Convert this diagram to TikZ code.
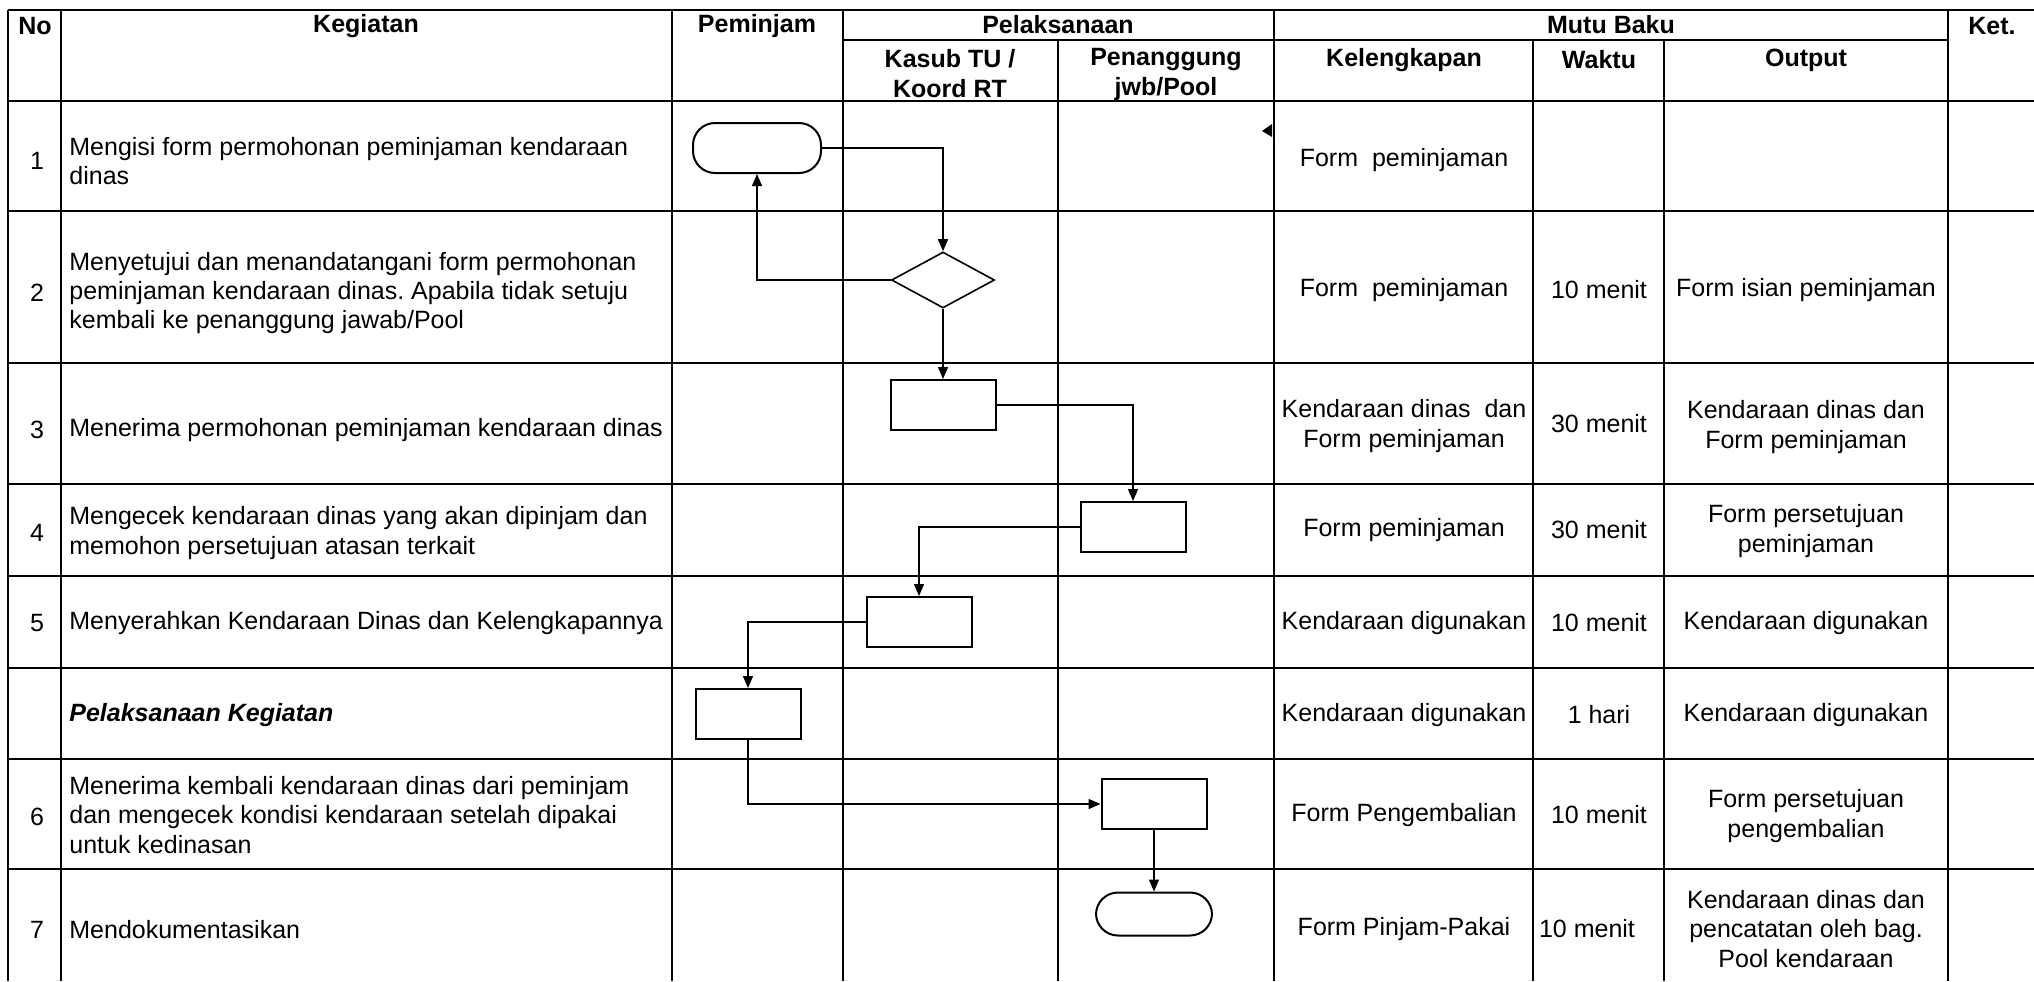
\documentclass[tikz,border=0pt]{standalone}
\usepackage{fontspec}
\setmainfont{Liberation Sans}
\usetikzlibrary{shapes.geometric,arrows.meta}
\frenchspacing
\begin{document}
\begin{tikzpicture}[x=0.5pt,y=-0.5pt,
  grid/.style={line width=1.2pt},
  proc/.style={draw,line width=1pt,minimum width=52.5pt,minimum height=25pt,inner sep=0pt},
  term/.style={draw,line width=1pt,rounded corners=11pt,inner sep=0pt},
  dec/.style={draw,diamond,line width=0.8pt,minimum width=51.5pt,minimum height=28pt,inner sep=0pt},
  flow/.style={line width=0.7pt,-{Triangle[length=6pt,width=5pt]}},
  txt/.style={font=\fontsize{12.5}{14.6}\selectfont,inner sep=0pt,align=center},
  ltxt/.style={txt,anchor=west,align=left},
  hdr/.style={inner sep=0pt,align=center,font=\fontsize{12.5}{15}\selectfont\bfseries},
]
\useasboundingbox (0,0) rectangle (2034,981);
% ---- grid ----
\foreach \y in {10,101,211,363,484,576,668,759,869}
  \draw[grid] (8,\y) -- (2034,\y);
\draw[grid] (843,40) -- (1948,40);
\foreach \x in {8,61,672,843,1274,1948}
  \draw[grid] (\x,10) -- (\x,981);
\foreach \x in {1058,1533,1664}
  \draw[grid] (\x,40) -- (\x,981);
% ---- header ----
\node[hdr] (hno) at (35,26) {No};
\node[hdr] (hkeg) at (366,26) {Kegiatan};
\node[hdr] (hpem) at (757,26) {Peminjam};
\node[hdr] (hpel) at (1058,25) {Pelaksanaan};
\node[hdr] (hmutu) at (1611,25) {Mutu Baku};
\node[hdr] (hket) at (1992,26) {Ket.};
\node[hdr] (hkas) at (950,74) {Kasub TU /\\Koord RT};
\node[hdr] (hpen) at (1166,74) {Penanggung\\jwb/Pool};
\node[hdr] (hkel) at (1404,60) {Kelengkapan};
\node[hdr] (hwak) at (1599,60) {Waktu};
\node[hdr] (hout) at (1806,60) {Output};
% ---- numbers ----
\node[txt] (n1) at (37,161) {1};
\node[txt] (n2) at (37,293) {2};
\node[txt] (n3) at (37,430) {3};
\node[txt] (n4) at (37,533) {4};
\node[txt] (n5) at (37,623) {5};
\node[txt] (n6) at (37,817) {6};
\node[txt] (n7) at (37,930) {7};
% ---- kegiatan ----
\node[ltxt] (k1) at (69,161) {Mengisi form permohonan peminjaman kendaraan\\dinas};
\node[ltxt] (k2) at (69,293) {Menyetujui dan menandatangani form permohonan\\peminjaman kendaraan dinas. Apabila tidak setuju\\kembali ke penanggung jawab/Pool};
\node[ltxt] (k3) at (69,430) {Menerima permohonan peminjaman kendaraan dinas};
\node[ltxt] (k4) at (69,533) {Mengecek kendaraan dinas yang akan dipinjam dan\\memohon persetujuan atasan terkait};
\node[ltxt] (k5) at (69,623) {Menyerahkan Kendaraan Dinas dan Kelengkapannya};
\node[ltxt] (k6a) at (69,715) {\textbf{\textit{Pelaksanaan Kegiatan}}};
\node[ltxt] (k6) at (69,815) {Menerima kembali kendaraan dinas dari peminjam\\dan mengecek kondisi kendaraan setelah dipakai\\untuk kedinasan};
\node[ltxt] (k7) at (69,930) {Mendokumentasikan};
% ---- kelengkapan ----
\node[txt] (l1) at (1404,160) {Form\ \ peminjaman};
\node[txt] (l2) at (1404,290) {Form\ \ peminjaman};
\node[txt] (l3) at (1404,426) {Kendaraan dinas\ \ dan\\Form peminjaman};
\node[txt] (l4) at (1404,530) {Form peminjaman};
\node[txt] (l5) at (1404,623) {Kendaraan digunakan};
\node[txt] (l6a) at (1404,715) {Kendaraan digunakan};
\node[txt] (l6) at (1404,815) {Form Pengembalian};
\node[txt] (l7) at (1404,929) {Form Pinjam-Pakai};
% ---- waktu ----
\node[txt] (w2) at (1599,290) {10 menit};
\node[txt] (w3) at (1599,424) {30 menit};
\node[txt] (w4) at (1599,530) {30 menit};
\node[txt] (w5) at (1599,623) {10 menit};
\node[txt] (w6a) at (1599,715) {1 hari};
\node[txt] (w6) at (1599,815) {10 menit};
\node[txt] (w7) at (1587,929) {10 menit};
% ---- output ----
\node[txt] (o2) at (1806,290) {Form isian peminjaman};
\node[txt] (o3) at (1806,427) {Kendaraan dinas dan\\Form peminjaman};
\node[txt] (o4) at (1806,531) {Form persetujuan\\peminjaman};
\node[txt] (o5) at (1806,623) {Kendaraan digunakan};
\node[txt] (o6a) at (1806,715) {Kendaraan digunakan};
\node[txt] (o6) at (1806,816) {Form persetujuan\\pengembalian};
\node[txt] (o7) at (1806,929) {Kendaraan dinas dan\\pencatatan oleh bag.\\Pool kendaraan};
% ---- flowchart shapes ----
\node[term,minimum width=64pt,minimum height=25pt] (t1) at (757,148) {};
\node[dec] (d2) at (943,280) {};
\node[proc] (r3) at (943,405) {};
\node[proc] (r4) at (1133,527) {};
\node[proc] (r5) at (919,622) {};
\node[proc] (r6a) at (748,714) {};
\node[proc] (r6) at (1154,804) {};
\node[term,minimum width=58pt,minimum height=21.5pt] (t7) at (1154,914) {};
% ---- connectors ----
\draw[flow] (t1.east) -| (d2.north);
\draw[flow] (d2.west) -| (t1.south);
\draw[flow] (d2.south) -- (r3.north);
\draw[flow] (r3.east) -| (r4.north);
\draw[flow] (r4.west) -| (r5.north);
\draw[flow] (r5.west) -| (r6a.north);
\draw[flow] (r6a.south) |- (r6.west);
\draw[flow] (r6.south) -- (t7.north);
% stray arrowhead
\fill (1262,131) -- (1272,124) -- (1272,137) -- cycle;
\end{tikzpicture}
\end{document}
